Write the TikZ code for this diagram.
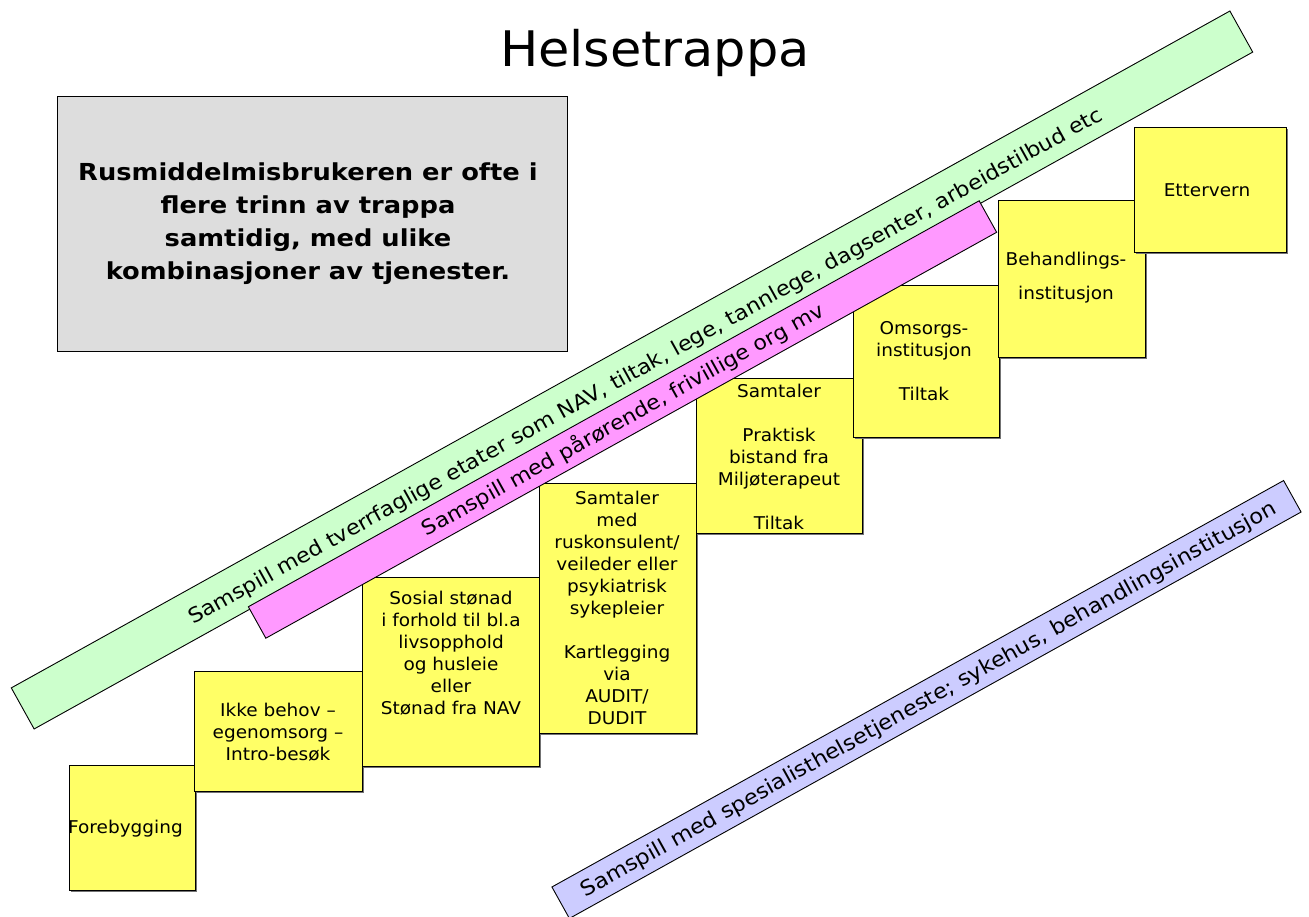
\documentclass[tikz,border=0pt]{standalone}
\usepackage{fontspec}
\setmainfont{DejaVu Sans}
\newfontfamily\stepfont[FakeStretch=1.05]{DejaVu Sans}
\newfontfamily\infofont[FakeStretch=1.1]{DejaVu Sans}
\newfontfamily\bandfont[FakeStretch=1.08]{DejaVu Sans}
\newfontfamily\titlefont[FakeStretch=1.04]{DejaVu Sans}
\definecolor{stepyellow}{HTML}{FFFF66}
\definecolor{bandgreen}{HTML}{CCFFCC}
\definecolor{bandpink}{HTML}{FF99FF}
\definecolor{bandblue}{HTML}{CCCCFF}
\definecolor{infogray}{HTML}{DDDDDD}
\begin{document}
\begin{tikzpicture}[x=1pt,y=-1pt,
  stepbox/.style={draw=black, line width=0.9pt, fill=stepyellow, inner sep=0pt, anchor=north west,
    preaction={fill=black!55, transform canvas={shift={(1.6pt,-1.6pt)}}}},
  steptext/.style={align=center, inner sep=0pt, font=\stepfont\fontsize{17.6}{22}\selectfont},
  band/.style={draw=black, line width=0.9pt, rotate=29.05, inner sep=0pt},
  bandtext/.style={rotate=29.05, inner sep=0pt}
]
\useasboundingbox (0,0) rectangle (1309,917);
\begin{scope}
\clip (0,0) rectangle (1309,917);
% title
\node[anchor=base, inner sep=0pt, font=\titlefont\fontsize{49}{56}\selectfont] (title) at (655,67) {Helsetrappa};
% info box
\node[draw=black, line width=0.9pt, fill=infogray, anchor=north west, minimum width=510pt, minimum height=255pt, inner sep=0pt] (info) at (57,96) {};
\node[align=center, inner sep=0pt, font=\infofont\bfseries\fontsize{23.4}{33}\selectfont] (infotext) at (308,224)
  {Rusmiddelmisbrukeren er ofte i\\flere trinn av trappa\\samtidig, med ulike\\kombinasjoner av tjenester.};
% steps
\node[stepbox, minimum width=126pt, minimum height=125pt] (b1) at (69,765) {};
\node[stepbox, minimum width=168pt, minimum height=120pt] (b2) at (194,671) {};
\node[stepbox, minimum width=177pt, minimum height=189pt] (b3) at (362,577) {};
\node[stepbox, minimum width=157pt, minimum height=250pt] (b4) at (539,483) {};
\node[stepbox, minimum width=166pt, minimum height=155pt] (b5) at (696,378) {};
\node[stepbox, minimum width=146pt, minimum height=152pt] (b6) at (853,285) {};
\node[stepbox, minimum width=147pt, minimum height=157pt] (b7) at (998,200) {};
\node[stepbox, minimum width=152pt, minimum height=125pt] (b8) at (1134,127) {};
\node[steptext, anchor=west] (t1) at (68,829) {Forebygging};
\node[steptext] (t2) at (278,732) {Ikke behov –\\egenomsorg –\\Intro-besøk};
\node[steptext] (t3) at (451,653) {Sosial stønad\\i forhold til bl.a\\livsopphold\\og husleie\\eller\\Stønad fra NAV};
\node[steptext] (t4) at (617,608) {Samtaler\\med\\ruskonsulent/\\veileder eller\\psykiatrisk\\sykepleier\\[22pt]Kartlegging\\via\\AUDIT/\\DUDIT};
\node[steptext] (t5) at (779,457) {Samtaler\\[22pt]Praktisk\\bistand fra\\Miljøterapeut\\[22pt]Tiltak};
\node[steptext] (t6) at (924,361) {Omsorgs-\\institusjon\\[22pt]Tiltak};
\node[steptext] (t7) at (1066,278) {Behandlings-\\[12pt]institusjon};
\node[steptext] (t8) at (1207,190) {Ettervern};
% bands
\node[band, fill=bandgreen, minimum width=1394pt, minimum height=47pt] (g) at (632,370) {};
\node[bandtext, font=\bandfont\fontsize{20.6}{24}\selectfont] (gt) at (646,367) {Samspill med tverrfaglige etater som NAV, tiltak, lege, tannlege, dagsenter, arbeidstilbud etc};
\node[band, fill=bandpink, minimum width=836pt, minimum height=36pt] (p) at (622.5,419.5) {};
\node[bandtext, font=\bandfont\fontsize{20.4}{24}\selectfont] (pt) at (623,420) {Samspill med pårørende, frivillige org mv};
\node[band, fill=bandblue, minimum width=837pt, minimum height=36pt] (bl) at (926.5,699.5) {};
\node[bandtext, font=\bandfont\fontsize{20.9}{24}\selectfont] (blt) at (929,700) {Samspill med spesialisthelsetjeneste; sykehus, behandlingsinstitusjon};
\end{scope}
\end{tikzpicture}
\end{document}
